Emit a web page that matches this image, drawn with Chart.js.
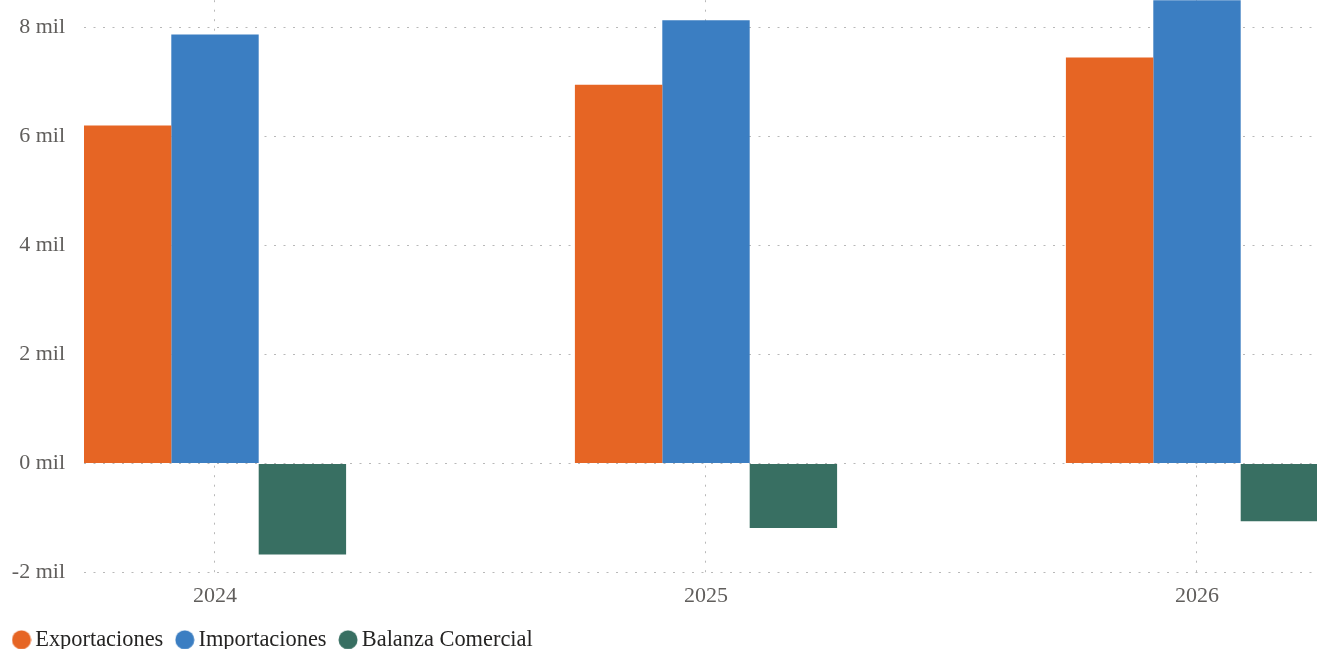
<!DOCTYPE html>
<html>
<head>
<meta charset="utf-8">
<script src="https://cdn.jsdelivr.net/npm/chart.js@4/dist/chart.umd.min.js"></script>
<style>
  html, body { margin: 0; padding: 0; background: #fff; overflow: hidden; }
  #wrap { width: 1317px; height: 649px; overflow: hidden; position: relative; }
  #chart { position: absolute; left: 0; top: -32px; }
</style>
</head>
<body>
<div id="wrap"><canvas id="chart" width="1317" height="693"></canvas></div>
<script>
// data (millions of dollars)
const years = ['2024', '2025', '2026'];
const exportaciones = [6200, 6950, 7450];
const importaciones = [7870, 8130, 8550];
const balanza = [-1670, -1180, -1060];
const yTicks = [-2000, 0, 2000, 4000, 6000, 8000];

const seriesNames = ['Exportaciones', 'Importaciones', 'Balanza Comercial'];
const seriesColors = ['#E66524', '#3B7EC2', '#386F62'];

// round legend markers
const dots = seriesColors.map(c => {
  const cv = document.createElement('canvas');
  cv.width = 20; cv.height = 20;
  const g = cv.getContext('2d');
  g.fillStyle = c;
  g.beginPath();
  g.arc(10, 10, 9.5, 0, Math.PI * 2);
  g.fill();
  return cv;
});

const toPoints = arr => arr.map((v, i) => ({ x: i, y: v }));
const family = '"Liberation Serif", "Times New Roman", serif';
const font = { family, size: 22 };
const dash = [2, 7.5];
const gridStyle = { color: '#b8b8b8', lineWidth: 1, drawTicks: false, offset: false };

new Chart(document.getElementById('chart'), {
  type: 'bar',
  data: {
    datasets: [exportaciones, importaciones, balanza].map((d, i) => ({
      label: seriesNames[i],
      data: toPoints(d),
      backgroundColor: seriesColors[i],
      borderWidth: 0,
      categoryPercentage: 0.534,
      barPercentage: 1
    }))
  },
  options: {
    responsive: false,
    animation: false,
    devicePixelRatio: 1,
    layout: { padding: 0 },
    scales: {
      x: {
        type: 'linear',
        bounds: 'data',
        offset: false,
        min: -0.2668,
        max: 2.2444,
        afterBuildTicks: s => { s.ticks = years.map((y, i) => ({ value: i })); },
        afterFit: s => { s.height = 37; },
        ticks: {
          padding: 10,
          color: '#605E5C',
          font,
          callback: v => years[v] ?? ''
        },
        grid: gridStyle,
        border: { display: false, dash }
      },
      y: {
        bounds: 'data',
        min: -2000,
        max: 8500,
        afterBuildTicks: s => { s.ticks = yTicks.map(v => ({ value: v })); },
        ticks: {
          padding: 19,
          color: '#605E5C',
          font,
          callback: v => (v / 1000) + ' mil'
        },
        grid: gridStyle,
        border: { display: false, dash },
        afterFit: s => { s.width = 84; }
      }
    },
    plugins: {
      tooltip: { enabled: false },
      legend: {
        position: 'bottom',
        align: 'start',
        labels: {
          usePointStyle: true,
          pointStyleWidth: 5,
          padding: 19,
          color: '#252423',
          font: { family, size: 22.4 },
          generateLabels(chart) {
            const items = Chart.defaults.plugins.legend.labels.generateLabels(chart);
            items.forEach((it, i) => { it.pointStyle = dots[i]; });
            return items;
          }
        }
      }
    }
  }
});
</script>
</body>
</html>
